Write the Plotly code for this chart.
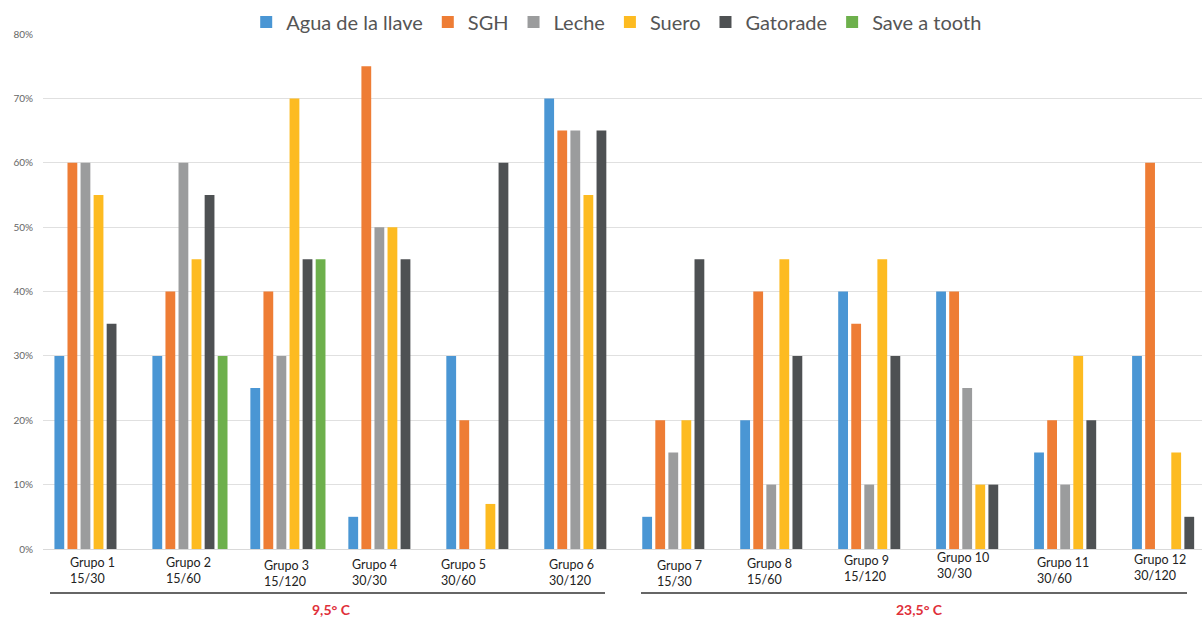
import plotly.graph_objects as go

grupos = ["Grupo 1", "Grupo 2", "Grupo 3", "Grupo 4", "Grupo 5", "Grupo 6",
          "Grupo 7", "Grupo 8", "Grupo 9", "Grupo 10", "Grupo 11", "Grupo 12"]
tiempos = ["15/30", "15/60", "15/120", "30/30", "30/60", "30/120",
           "15/30", "15/60", "15/120", "30/30", "30/60", "30/120"]

agua = [30, 30, 25, 5, 30, 70, 5, 20, 40, 40, 15, 30]
sgh = [60, 40, 40, 75, 20, 65, 20, 40, 35, 40, 20, 60]
leche = [60, 60, 30, 50, 0, 65, 15, 10, 10, 25, 10, 0]
suero = [55, 45, 70, 50, 7, 55, 20, 45, 45, 10, 30, 15]
gatorade = [35, 55, 45, 45, 60, 65, 45, 30, 30, 10, 20, 5]
save_tooth = [0, 30, 45, 0, 0, 0, 0, 0, 0, 0, 0, 0]

temperaturas = ["9,5° C", "23,5° C"]
y_ticks = [0, 10, 20, 30, 40, 50, 60, 70, 80]
y_ticktext = [f"{v}%" for v in y_ticks]

series = [
    ("Agua de la llave", agua, "#4A96D4"),
    ("SGH", sgh, "#EE7D35"),
    ("Leche", leche, "#9B9C9D"),
    ("Suero", suero, "#FDBB21"),
    ("Gatorade", gatorade, "#4E5153"),
    ("Save a tooth", save_tooth, "#6DB04C"),
]

fig = go.Figure()
for name, vals, color in series:
    fig.add_trace(go.Bar(name=name, x=grupos, y=vals, marker=dict(color=color, line=dict(width=0))))

W, H = 1202, 619
ml, mr, mt, mb = 43, 0, 34, 70
PW, PH = W - ml - mr, H - mt - mb

fig.update_layout(
    width=W, height=H,
    margin=dict(l=ml, r=mr, t=mt, b=mb, pad=0, autoexpand=False),
    paper_bgcolor="white", plot_bgcolor="white",
    barmode="group", bargap=0.2, bargroupgap=0.25,
    font=dict(family="Lato, Open Sans, sans-serif", color="#333"),
    legend=dict(orientation="h", x=0.495, xanchor="center", y=1 + 12 / PH, yanchor="middle",
                font=dict(size=20, color="#555"), itemwidth=30,
                traceorder="normal", bgcolor="rgba(0,0,0,0)"),
    showlegend=True,
)
fig.update_xaxes(type="category", range=[-0.5, 11.33], showticklabels=False,
                 showgrid=False, showline=True, linecolor="#d9d9d9", linewidth=1,
                 ticks="", zeroline=False)
fig.update_yaxes(range=[0, 80], tickmode="array", tickvals=y_ticks, ticktext=y_ticktext,
                 tickfont=dict(size=10, color="#666"), showgrid=True,
                 gridcolor="#e0e0e0", gridwidth=1, zeroline=False, showline=False,
                 ticks="", ticklabelstandoff=9)

xshifts = [-24, -26, -26, -36, -45, -35, -25, -33, -34, -39, -37, -38]
yshifts = [-4, -4, -7, -6, -6, -6, -7, -5, -2, 1, -4, -1]
for g, t, xs, ys in zip(grupos, tiempos, xshifts, yshifts):
    fig.add_annotation(x=g, xref="x", y=0, yref="paper", xanchor="left", yanchor="top",
                       text=f"{g}<br>{t}", align="left", showarrow=False,
                       xshift=xs, yshift=ys,
                       font=dict(size=12.5, color="#222"))

# bracket lines under the two temperature blocks
for x0, x1 in [(50, 605), (641, 1187)]:
    fig.add_shape(type="line", xref="paper", yref="paper", x0=(x0 - ml) / PW,
                  x1=(x1 - ml) / PW, y0=-44 / PH, y1=-44 / PH,
                  line=dict(color="#333", width=1.5))

for temp, cx in zip(temperaturas, [331, 919]):
    fig.add_annotation(x=(cx - ml) / PW, xref="paper", y=-60 / PH,
                       yref="paper", xanchor="center", yanchor="middle", text=f"<b>{temp}</b>",
                       showarrow=False, borderpad=0, font=dict(size=14, color="#E0303A"))

fig.write_html("out.html", config={"displayModeBar": False},
               post_script="document.body.style.margin='0';")
